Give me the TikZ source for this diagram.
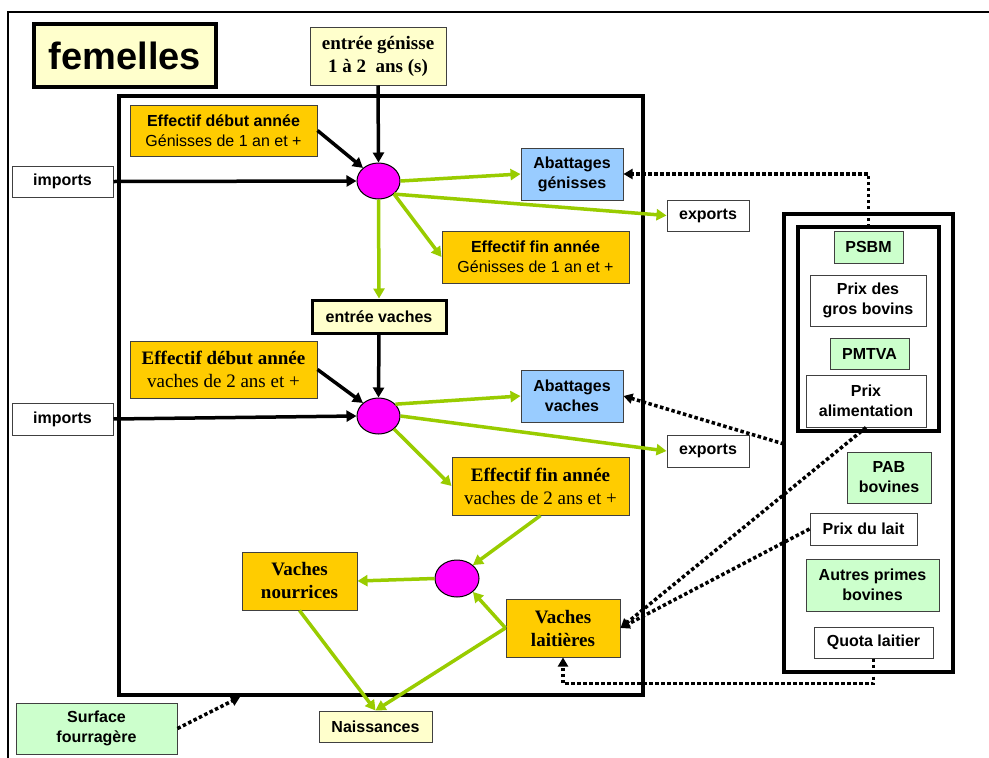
\documentclass[tikz,border=0pt]{standalone}
\usepackage{fontspec}
\setmainfont{Liberation Serif}
\setsansfont{Liberation Sans}
\usetikzlibrary{arrows.meta,shapes.geometric}
\definecolor{pale}{HTML}{FFFFCC}
\definecolor{gold}{HTML}{FFCC00}
\definecolor{sky}{HTML}{99CCFF}
\definecolor{mint}{HTML}{CCFFCC}
\definecolor{lime}{HTML}{99CC00}
\definecolor{hubfill}{HTML}{FF00FF}
\tikzset{
  box/.style={draw=black!75, line width=1pt, inner sep=0pt, align=center,
    font={\sffamily\bfseries\fontsize{16}{20}\selectfont}},
  serifbox/.style={box, font={\rmfamily\bfseries\fontsize{19}{23}\selectfont}},
  paleb/.style={box, fill=pale},
  goldb/.style={box, fill=gold},
  goldserif/.style={serifbox, fill=gold},
  skyb/.style={box, fill=sky},
  mintb/.style={box, fill=mint},
  whiteb/.style={box, fill=white},
  hub/.style={ellipse, draw=black, line width=1pt, fill=hubfill, inner sep=0pt,
    minimum width=43pt, minimum height=36pt},
  frame/.style={draw=black, line width=3.5pt},
  blk/.style={draw=black, line width=3.5pt, -{Triangle[length=10pt,width=11pt]}},
  grn/.style={draw=lime, line width=3.5pt, -{Triangle[length=10pt,width=11pt]}},
  dot/.style={draw=black, line width=3.5pt, dash pattern=on 3.5pt off 2.5pt,
    -{Triangle[length=9pt,width=10pt]}},
}
\begin{document}
\begin{tikzpicture}[x=1pt,y=-1pt]
\useasboundingbox (0,0) rectangle (989,758);
\fill[white] (0,0) rectangle (989,758);

% page frame
\draw[line width=2.5pt] (8,758) -- (8,12) -- (989,12);

% main herd frame and price panel
\draw[frame] (119,96) rectangle (643,695);
\draw[frame] (784,214) rectangle (953,672);
\draw[frame] (798,227) rectangle (939,431);
\coordinate (innertop) at (868.5,227);
\coordinate (panelw) at (784,444);
\coordinate (mainbot) at (240,697);

% title
\node[box, fill=pale, draw=black, line width=3.5pt, minimum width=182pt, minimum height=63pt,
  font={\sffamily\bfseries\fontsize{38}{40}\selectfont}] (title) at (125,55.5) {femelles};

% heifers
\node[paleb, serifbox, fill=pale, minimum width=136pt, minimum height=58pt] (egen) at (378,56)
  {entrée génisse\\1 à 2\ \ ans (s)};
\node[goldb, minimum width=187pt, minimum height=51pt] (edg) at (223.5,130.5)
  {Effectif début année\\{\mdseries Génisses de 1 an et +}};
\node[whiteb, minimum width=101pt, minimum height=31pt] (imp1) at (62.5,181.5) {imports};
\node[hub] (hub1) at (378.5,181) {};
\node[skyb, minimum width=102pt, minimum height=52pt] (abg) at (572,174) {Abattages\\génisses};
\node[whiteb, minimum width=82pt, minimum height=31pt] (exp1) at (708,215.5) {exports};
\node[goldb, minimum width=187pt, minimum height=52pt] (efg) at (535.5,257)
  {Effectif fin année\\{\mdseries Génisses de 1 an et +}};

% cows
\node[paleb, draw=black, line width=3pt, minimum width=134pt, minimum height=33pt] (ev) at (379,316.5) {entrée vaches};
\node[goldserif, minimum width=187pt, minimum height=57pt] (edv) at (223.5,369.5)
  {Effectif début année\\{\mdseries vaches de 2 ans et +}};
\node[whiteb, minimum width=101pt, minimum height=32pt] (imp2) at (62.5,419) {imports};
\node[hub] (hub2) at (378.5,416) {};
\node[skyb, minimum width=102pt, minimum height=52pt] (abv) at (572,396) {Abattages\\vaches};
\node[whiteb, minimum width=82pt, minimum height=32pt] (exp2) at (708,451) {exports};
\node[goldserif, minimum width=177pt, minimum height=58pt] (efv) at (540.5,486)
  {Effectif fin année\\{\mdseries vaches de 2 ans et +}};

% herd split and births
\node[hub, minimum width=44pt, minimum height=37pt] (hub3) at (457,578.5) {};
\node[goldserif, minimum width=115pt, minimum height=58pt] (vn) at (299.5,581) {Vaches\\nourrices};
\node[goldserif, minimum width=114pt, minimum height=58pt] (vl) at (563,628) {Vaches\\laitières};
\node[paleb, minimum width=113pt, minimum height=31pt] (nais) at (375.5,726.5) {Naissances};
\node[mintb, minimum width=161pt, minimum height=51pt] (surf) at (96.5,728.5) {Surface\\fourragère};

% prices and premiums
\node[mintb, minimum width=69pt, minimum height=32pt] (psbm) at (868.5,247) {PSBM};
\node[whiteb, minimum width=116pt, minimum height=51pt] (pgb) at (868,300.5) {Prix des\\gros bovins};
\node[mintb, minimum width=79pt, minimum height=31pt] (pmtva) at (869.5,353.5) {PMTVA};
\node[whiteb, minimum width=120pt, minimum height=52pt] (palim) at (866,401) {Prix\\alimentation};
\node[mintb, minimum width=84pt, minimum height=51pt] (pab) at (889,477.5) {PAB\\bovines};
\node[whiteb, minimum width=107pt, minimum height=32pt] (plait) at (863.5,529) {Prix du lait};
\node[mintb, minimum width=133pt, minimum height=52pt] (autres) at (872.5,585) {Autres primes\\bovines};
\node[whiteb, minimum width=119pt, minimum height=31pt] (quota) at (873.5,642.5) {Quota laitier};

% inflows
\draw[blk] (egen.south) -- (hub1.north);
\draw[blk] (edg.east) -- (hub1.north west);
\draw[blk] (imp1.east) -- (hub1.west);
\draw[blk] (ev.south) -- (hub2.north);
\draw[blk] (edv.east) -- (hub2.north west);
\draw[blk] (imp2.east) -- (hub2.west);

% flows
\draw[grn] (hub1.east) -- (abg.west);
\draw[grn] (hub1.south east) -- (exp1.west);
\draw[grn] (hub1.south east) -- (efg.west);
\draw[grn] (hub1.south) -- (ev.north);
\draw[grn] (hub2.35) -- (abv.west);
\draw[grn] (hub2.east) -- (exp2.west);
\draw[grn] (hub2.south east) -- (efv.west);
\draw[grn] (efv.south) -- (hub3.north east);
\draw[grn] (hub3.west) -- (vn.east);
\draw[grn] (vl.west) -- (hub3.south east);
\draw[grn] (vn.south) -- (nais.north);
\draw[grn] (vl.west) -- (nais.north);

% economic drivers
\draw[dot] (innertop) |- (abg.east);
\draw[dot] (panelw) -- (abv.east);
\draw[dot] (palim.south) -- (vl.east);
\draw[dot] (plait.west) -- (vl.east);
\draw[dot] (quota.south) -- ++(0,25) -| (vl.south);
\draw[dot] (surf.east) -- (mainbot);
\end{tikzpicture}
\end{document}
